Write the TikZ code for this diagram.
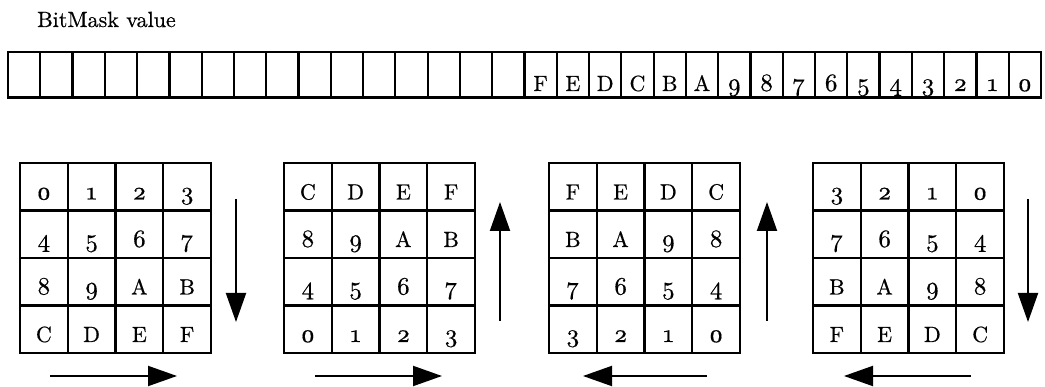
\documentclass[tikz,border=0pt]{standalone}
\usetikzlibrary{arrows.meta}

% text face: Latin Modern Roman, 10pt design, set large and slightly heavier;
% old-style figures from the same face, a little larger
\font\labelfont="[lmroman10-regular.otf]:embolden=0.5" at 22pt
\font\digitfont="[lmroman10-regular.otf]:+onum;embolden=0.5" at 25pt
\newcommand\dg[1]{{\digitfont #1}}
\newcommand\hexlab[1]{\ifcase#1 \dg0\or\dg1\or\dg2\or\dg3\or\dg4\or
  \dg5\or\dg6\or\dg7\or\dg8\or\dg9\or A\or B\or C\or D\or E\or F\fi}

\tikzset{
  box/.style={draw, line width=2.2pt, inner sep=0pt, outer sep=0pt,
    font=\labelfont, text depth=0pt},
  gridcell/.style={box, minimum width=47.75pt, minimum height=47.5pt, text height=25.5pt},
  barcell/.style={box, minimum width=32.28pt, minimum height=45.5pt, text height=32.5pt},
  flow/.style={line width=2pt, -{Triangle[length=29pt,width=20pt]}},
}

\begin{document}
\begin{tikzpicture}[x=1pt,y=-1pt]
\useasboundingbox (0,0) rectangle (1045,387);

% heading
\node[anchor=base west, inner sep=0pt, font=\labelfont] (title) at (37,27) {BitMask value};

% 32-bit mask strip, low 16 bits labelled
\foreach \i in {0,...,31}{
  \pgfmathsetmacro\cx{8+32.28*(\i+0.5)}
  \ifnum\i<16
    \node[barcell] (bit\i) at (\cx,74.75) {};
  \else
    \pgfmathtruncatemacro\v{31-\i}
    \node[barcell] (bit\i) at (\cx,74.75) {\hexlab{\v}};
  \fi
}

% four 4x4 orderings: grid / left edge / row flip / column flip
\foreach \g/\gx/\fr/\fc in {1/20/0/0, 2/284/1/0, 3/549/1/1, 4/813/0/1}{
  \foreach \r in {0,...,3}{
    \foreach \c in {0,...,3}{
      \pgfmathtruncatemacro\v{4*(\fr==1 ? 3-\r : \r) + (\fc==1 ? 3-\c : \c)}
      \node[gridcell] (g\g-\v) at ({\gx+47.75*(\c+0.5)},{163+47.5*(\r+0.5)}) {\hexlab{\v}};
    }
  }
}

% scan-direction arrows
\coordinate (a1s) at (236,199); \coordinate (a1e) at (236,322);
\coordinate (a2s) at (500,321); \coordinate (a2e) at (500,202);
\coordinate (a3s) at (767,321); \coordinate (a3e) at (767,202);
\coordinate (a4s) at (1028,199); \coordinate (a4e) at (1028,322);
\draw[flow] (a1s) -- (a1e);
\draw[flow] (a2s) -- (a2e);
\draw[flow] (a3s) -- (a3e);
\draw[flow] (a4s) -- (a4e);

\coordinate (b1s) at (50,376);  \coordinate (b1e) at (177,376);
\coordinate (b2s) at (315,376); \coordinate (b2e) at (442,376);
\coordinate (b3s) at (707,376); \coordinate (b3e) at (583,376);
\coordinate (b4s) at (971,376); \coordinate (b4e) at (844,376);
\draw[flow] (b1s) -- (b1e);
\draw[flow] (b2s) -- (b2e);
\draw[flow] (b3s) -- (b3e);
\draw[flow] (b4s) -- (b4e);
\end{tikzpicture}
\end{document}
